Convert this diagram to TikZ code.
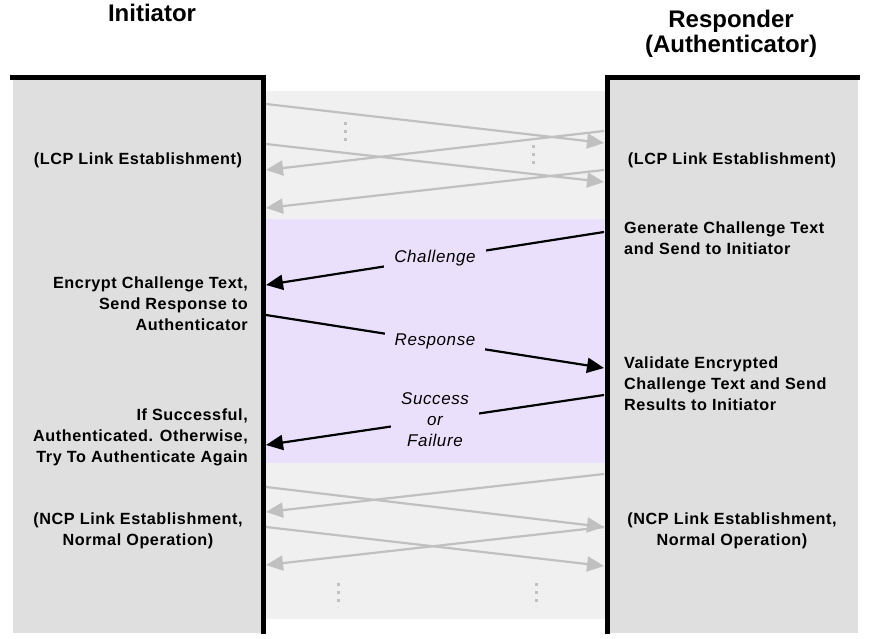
\documentclass[tikz,border=0pt]{standalone}
\usepackage{fontspec}
\setmainfont{Liberation Sans}
\newfontfamily\bodyfont{Liberation Sans}[LetterSpace=3.5]
\usetikzlibrary{arrows.meta}

\definecolor{lanegray}{HTML}{DFDFDF}
\definecolor{bandgray}{HTML}{F0F0F0}
\definecolor{bandlilac}{HTML}{EBE0FC}
\definecolor{msggray}{HTML}{C0C0C0}

\begin{document}
\begin{tikzpicture}[x=1pt, y=-1pt,
  msg/.style={line width=2.2pt, -{Triangle[length=17pt,width=15pt]}},
  faint/.style={msg, color=msggray},
  txt/.style={font=\bodyfont\bfseries\fontsize{16.2}{20.7}\selectfont, inner sep=0pt},
  lbl/.style={font=\bodyfont\itshape\fontsize{17}{21}\selectfont, fill=bandlilac, inner xsep=10pt, inner ysep=3pt, align=center},
  head/.style={font=\bfseries\fontsize{24}{25.5}\selectfont, inner sep=0pt, align=center},
  vdots/.style={color=msggray, line width=3pt, dash pattern=on 3pt off 5pt}]

\useasboundingbox (0,0) rectangle (872,639);
% lanes and bands
\fill[color=lanegray] (13,78) rectangle (263,633);
\fill[color=lanegray] (607,78) rectangle (858,633);
\fill[color=bandgray] (263,91) rectangle (607,619);
\fill[color=bandlilac] (263,219) rectangle (607,463);
\draw[line width=5pt] (10,78) -- (263,78) -- (263,634);
\draw[line width=5pt] (860,78) -- (607,78) -- (607,634);

% headings (base = last line)
\node[head, anchor=base] (initiator) at (152,22) {Initiator};
\node[head, anchor=base] (responder) at (731,53) {Responder\\(Authenticator)};

% left side
\node[txt, anchor=base] (lcpi) at (138,165) {(LCP Link Establishment)};
\node[txt, anchor=base east, align=right] (encrypt) at (248,330) {Encrypt Challenge Text,\\Send Response to\\Authenticator};
\node[txt, anchor=base east, align=right] (again) at (248,462) {If Successful,\\Authenticated. Otherwise,\\Try To Authenticate Again};
\node[txt, anchor=base, align=center] (ncpi) at (138,545) {(NCP Link Establishment,\\Normal Operation)};

% right side
\node[txt, anchor=base] (lcpr) at (732,165) {(LCP Link Establishment)};
\node[txt, anchor=base west, align=left] (generate) at (624,254) {Generate Challenge Text\\and Send to Initiator};
\node[txt, anchor=base west, align=left] (validate) at (624,410) {Validate Encrypted\\Challenge Text and Send\\Results to Initiator};
\node[txt, anchor=base, align=center] (ncpr) at (732,545) {(NCP Link Establishment,\\Normal Operation)};

% ends of the messages
\coordinate (i1) at (266,104); \coordinate (r1) at (604,143);
\coordinate (r2) at (604,131); \coordinate (i2) at (266,170);
\coordinate (i3) at (266,144); \coordinate (r3) at (604,182);
\coordinate (r4) at (604,170); \coordinate (i4) at (266,208);
\coordinate (rc) at (604,232); \coordinate (ic) at (266,285);
\coordinate (ir) at (266,315); \coordinate (rr) at (604,368);
\coordinate (rs) at (604,395); \coordinate (is) at (266,445);
\coordinate (r5) at (604,474); \coordinate (i5) at (266,512);
\coordinate (i6) at (266,487); \coordinate (r6) at (604,527);
\coordinate (i7) at (266,527); \coordinate (r7) at (604,566);
\coordinate (i8) at (266,565);

% LCP
\draw[faint] (i1) -- (r1);
\draw[faint] (r2) -- (i2);
\draw[faint] (i3) -- (r3);
\draw[faint] (r4) -- (i4);
\draw[vdots] (345,122) -- (345,146);
\draw[vdots] (533,145) -- (533,169);

% CHAP
\draw[msg] (rc) -- node[lbl] (challenge) {Challenge} (ic);
\draw[msg] (ir) -- node[lbl] (response) {Response} (rr);
\draw[msg] (rs) -- node[lbl] (result) {Success\\or\\Failure} (is);

% NCP
\draw[faint] (r5) -- (i5);
\draw[faint] (i6) -- (r6);
\draw[faint] (i7) -- (r7);
\draw[faint] (r6) -- (i8);
\draw[vdots] (338,583) -- (338,607);
\draw[vdots] (536,583) -- (536,607);
\end{tikzpicture}
\end{document}
